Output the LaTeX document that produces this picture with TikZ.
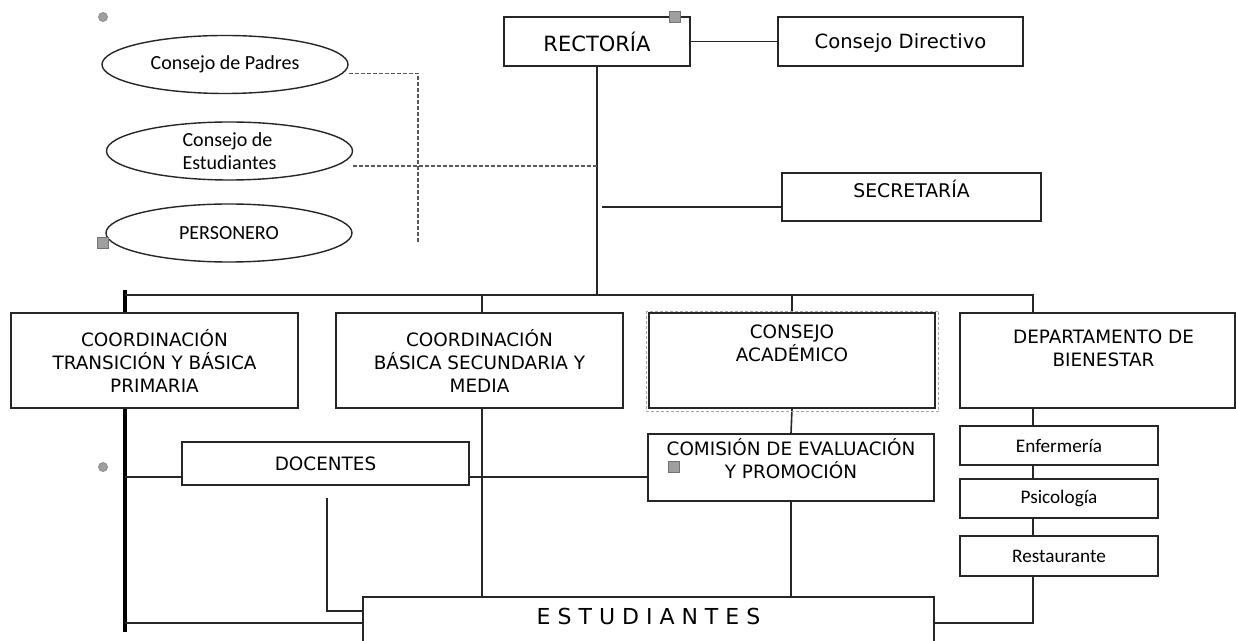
\documentclass[tikz,border=0pt]{standalone}
\usepackage{fontspec}
\setmainfont{DejaVu Sans}
\newfontfamily\calfont{Carlito}
\usepackage{tikz}
\usetikzlibrary{shapes.geometric, positioning, calc}

\begin{document}
\begin{tikzpicture}[
    x=0.5pt, y=-0.5pt,
    box/.style={rectangle, draw=black!85, line width=0.8pt, fill=white, align=center, inner sep=0pt, minimum width=#1, font=\fontsize{9.2}{11.5}\selectfont},
    box/.default=143.5pt,
    toptext/.style={inner sep=0pt, anchor=north, align=center, font=\fontsize{9.2}{11.5}\selectfont},
    oval/.style={ellipse, draw=black!85, line width=0.7pt, fill=white, minimum width=123pt, minimum height=29pt, inner sep=0pt, font=\calfont\fontsize{10}{11.5}\selectfont},
    sub/.style={box=99pt, minimum height=19.5pt, font=\calfont\fontsize{9.6}{11}\selectfont},
    link/.style={draw=black!85, line width=0.8pt},
    spine/.style={draw=black, line width=2pt},
    dashlink/.style={draw=gray!70!black, line width=0.8pt, dash pattern=on 2pt off 1pt},
    selframe/.style={draw=gray!70, line width=0.5pt, dash pattern=on 1.5pt off 1pt},
    hdot/.style={circle, fill=gray!75, draw=gray!90, inner sep=0pt, minimum size=4.5pt},
    hsq/.style={rectangle, fill=gray!75, draw=gray!90!black, inner sep=0pt, minimum size=5.5pt}
]
\clip (0,0) rectangle (1236,641);

% Left spine
\draw[spine] (125,290) -- (125,632);

% Top of the chart
\node[box=93pt, minimum height=24.5pt, font=\fontsize{10.5}{12}\selectfont] (rect) at (597,41.5) {RECTORÍA};
\node[box=122.5pt, minimum height=24.5pt, text depth=0pt, font=\fontsize{9.8}{12}\selectfont] (dir) at (900.5,41.5) {Consejo Directivo};
\node[box=129.5pt, minimum height=24pt, label={[toptext, yshift=-3.5pt, font=\fontsize{9.4}{11}\selectfont]north:SECRETARÍA}] (sec) at (911.5,197) {};

% Councils
\node[oval] (padres) at (225,64.5) {Consejo de Padres};
\node[oval, align=left] (cest) at (229.5,151) {Consejo de\\Estudiantes};
\node[oval] (pers) at (229,233) {PERSONERO};

% Coordinations
\node[box, minimum height=47.5pt] (c1) at (154.5,360.5) {COORDINACIÓN\\TRANSICIÓN Y BÁSICA\\PRIMARIA};
\node[box, minimum height=47.5pt] (c2) at (479.5,360.5) {COORDINACIÓN\\BÁSICA SECUNDARIA Y\\MEDIA};
\node[box=143pt, minimum height=47.5pt, label={[toptext, yshift=-6pt]north:CONSEJO\\ACADÉMICO}] (aca) at (792,360.5) {};
\node[box=137.5pt, minimum height=47.5pt, label={[toptext, yshift=-8.5pt, xshift=3pt]north:DEPARTAMENTO DE\\BIENESTAR}] (dept) at (1097.5,360.5) {};

% Second row
\node[box, minimum height=21.5pt] (doc) at (325.5,463.5) {DOCENTES};
\node[box=143pt, minimum height=33.5pt, text depth=9pt] (com) at (791,467.5) {COMISIÓN DE EVALUACIÓN\\Y PROMOCIÓN};
\node[sub] (enf) at (1059,445.5) {Enfermería};
\node[sub] (psi) at (1059,498.5) {Psicología};
\node[sub, minimum height=20pt] (rest) at (1059,556) {Restaurante};

% Students
\node[box=285.5pt, minimum height=31.5pt, label={[toptext, yshift=-6pt, font=\fontsize{11}{13}\selectfont]north:E S T U D I A N T E S}] (est) at (648.5,628.5) {};

% Bus points
\coordinate (bl) at (125,295);
\coordinate (bx) at (1033,295);
\coordinate (dy) at (0,477);
\coordinate (bb) at (125,623);
\coordinate (dl) at (327,498);
\coordinate (dv) at (418,243);
\coordinate (pe) at ($(padres.east)+(0,9)$);
\coordinate (ce) at ($(cest.east)+(0,15)$);
\coordinate (cx) at ($(c2.south)+(2.5,0)$);

% Links
\draw[link] (rect.east) -- (dir.west);
\draw[link] (rect.south) -- (rect.south |- bl);
\draw[link] ($(rect.south |- sec.west)+(5,10)$) -- ($(sec.west)+(0,10)$);
\draw[link] (bl) -- (bx) -- (bx |- dept.north);
\draw[link] (cx |- bl) -- (cx |- c2.north);
\draw[link] (aca.north |- bl) -- (aca.north);
\foreach \a/\b in {dept/enf, enf/psi, psi/rest}
    \draw[link] (\a.south -| bx) -- (\b.north -| bx);
\draw[link] (bl |- dy) -- (doc.west |- dy);
\draw[link] (doc.east |- dy) -- (com.west |- dy);
\draw[link] (cx) -- (cx |- est.north);
\draw[link] (aca.south) -- (com.north);
\draw[link] (com.south) -- (com.south |- est.north);
\draw[link] (dl) |- ($(est.north west)+(0,15)$);
\draw[link] (bb) -- (bb -| est.west);
\draw[link] (bb -| est.east) -| (rest.south -| bx);

% Dashed links
\draw[dashlink] (pe) -| (dv);
\draw[dashlink] (ce) -- (ce -| rect.south);
\draw[selframe] ($(aca.north west)+(-2,-1)$) rectangle ($(aca.south east)+(3,3)$);

% Handles
\node[hdot] (h1) at (103,17) {};
\node[hsq] (h2) at (103,243) {};
\node[hsq] (h3) at (675,17) {};
\node[hdot] (h4) at (103,467) {};
\node[hsq] (h5) at (674,467) {};

\end{tikzpicture}
\end{document}
